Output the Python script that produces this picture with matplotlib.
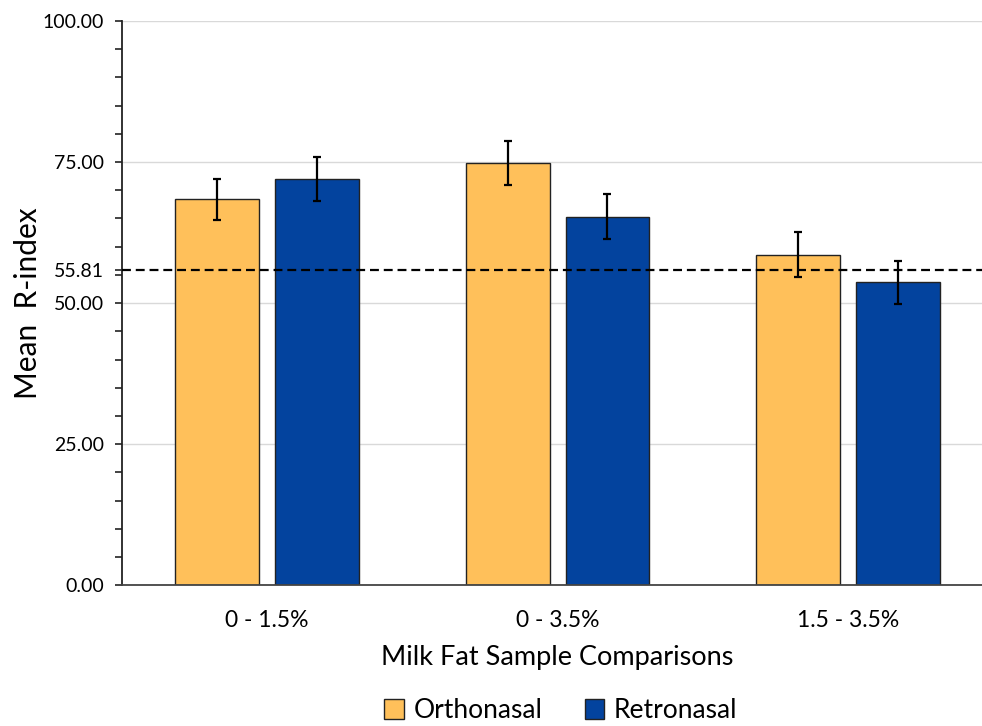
import matplotlib
matplotlib.use("Agg")
import matplotlib.pyplot as plt
import numpy as np

plt.rcParams['font.family'] = ['Lato', 'DejaVu Sans']

# data
groups = ["0 - 1.5%", "0 - 3.5%", "1.5 - 3.5%"]
ortho = [68.4, 74.8, 58.6]
ortho_err = [3.6, 3.9, 4.0]
retro = [72.0, 65.3, 53.7]
retro_err = [3.85, 4.0, 3.85]
chance = 55.81

fig = plt.figure(figsize=(9.82, 7.26), dpi=100)
ax = fig.add_axes([0.124, 0.194, 0.8875, 0.777])

x = np.arange(len(groups))
w = 0.289
off = 0.172

ax.bar(x - off, ortho, w, color="#FFC05A", edgecolor="#222222", linewidth=1.0,
       label="Orthonasal", zorder=2)
ax.bar(x + off, retro, w, color="#03439E", edgecolor="#222222", linewidth=1.0,
       label="Retronasal", zorder=2)
ax.errorbar(x - off, ortho, yerr=ortho_err, fmt="none", ecolor="black",
            elinewidth=1.6, capsize=3, capthick=1.6, zorder=3)
ax.errorbar(x + off, retro, yerr=retro_err, fmt="none", ecolor="black",
            elinewidth=1.6, capsize=3, capthick=1.6, zorder=3)

ax.axhline(chance, color="black", linestyle=(0, (4, 2.2)), linewidth=1.6, zorder=4)

ax.set_xlim(-0.5, 2.5)
ax.set_ylim(0, 100)
ax.set_yticks([0, 25, 50, chance, 75, 100])
ax.set_yticklabels(["0.00", "25.00", "50.00", "55.81", "75.00", "100.00"], fontsize=14)
ax.set_yticks(np.arange(0, 101, 5), minor=True)
ax.tick_params(axis="y", which="both", direction="out", length=5, width=1.2,
               color="#222222", pad=8)
ax.yaxis.grid(True, color="#d9d9d9", linewidth=1.0, zorder=0)
ax.get_ygridlines()[3].set_visible(False)
ax.set_axisbelow(True)

ax.set_xticks(x)
ax.set_xticklabels(groups, fontsize=16.5)
ax.tick_params(axis="x", length=0, pad=18)

for s in ["top", "right"]:
    ax.spines[s].set_visible(False)
ax.spines["left"].set_color("#222222")
ax.spines["left"].set_linewidth(1.3)
ax.spines["bottom"].set_color("#444444")
ax.spines["bottom"].set_linewidth(1.3)

ax.set_ylabel("Mean  R-index", fontsize=21.5)
ax.yaxis.set_label_coords(-0.092, 0.5)
ax.set_xlabel("Milk Fat Sample Comparisons", fontsize=19.5, labelpad=10)

fig.legend(loc="center", bbox_to_anchor=(0.571, 0.021), ncol=2, frameon=False,
           fontsize=19, handlelength=0.75, handleheight=0.75, handletextpad=0.35,
           columnspacing=1.6)

fig.savefig("out.png", dpi=100)
